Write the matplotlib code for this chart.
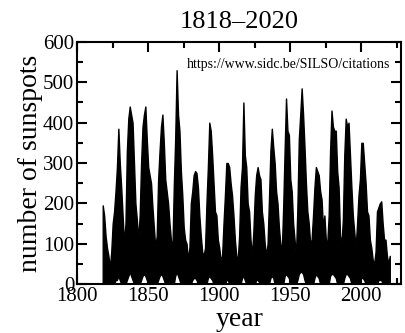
import numpy as np
import matplotlib
matplotlib.use("Agg")
import matplotlib.pyplot as plt
from matplotlib.ticker import MultipleLocator

# yearly envelope of the daily sunspot number
years = np.arange(1818, 2021)
upper = [195, 170, 120, 90, 70, 40, 80, 150, 180, 230,
         290, 385, 300, 240, 170, 100, 150, 330, 410, 440,
         420, 400, 300, 200, 160, 110, 170, 300, 390, 420,
         440, 360, 290, 270, 250, 190, 140, 90, 120, 260,
         330, 390, 420, 350, 260, 230, 200, 150, 110, 80,
         240, 360, 530, 420, 380, 280, 220, 140, 110, 100,
         60, 90, 200, 230, 270, 280, 275, 240, 170, 120,
         80, 70, 90, 200, 290, 400, 380, 320, 250, 180,
         170, 110, 90, 60, 70, 150, 220, 300, 300, 290,
         250, 220, 170, 110, 70, 60, 120, 240, 290, 450,
         320, 290, 200, 180, 110, 70, 130, 220, 270, 290,
         270, 260, 180, 150, 100, 70, 100, 210, 330, 385,
         340, 300, 230, 200, 140, 100, 80, 190, 330, 460,
         380, 370, 260, 230, 150, 110, 70, 190, 360, 420,
         485, 420, 340, 250, 180, 150, 100, 110, 170, 240,
         290, 280, 270, 230, 210, 140, 170, 110, 100, 170,
         330, 430, 390, 380, 380, 280, 240, 120, 100, 160,
         320, 410, 390, 400, 320, 240, 170, 130, 90, 150,
         220, 260, 350, 350, 300, 250, 180, 170, 110, 90,
         60, 50, 80, 180, 190, 200, 205, 150, 110, 110,
         70, 50, 70]
lower = [0, 0, 0, 0, 0, 0, 0, 0, 0, 10,
         10, 20, 10, 0, 0, 0, 0, 10, 20, 30,
         20, 10, 0, 0, 0, 0, 0, 10, 20, 25,
         20, 10, 0, 0, 0, 0, 0, 0, 0, 10,
         20, 25, 20, 10, 0, 0, 0, 0, 0, 0,
         0, 20, 30, 20, 10, 0, 0, 0, 0, 0,
         0, 0, 0, 10, 15, 15, 10, 0, 0, 0,
         0, 0, 0, 0, 15, 20, 15, 10, 0, 0,
         0, 0, 0, 0, 0, 0, 0, 10, 10, 0,
         0, 0, 0, 0, 0, 0, 0, 0, 15, 20,
         10, 0, 0, 0, 0, 0, 0, 0, 10, 10,
         5, 0, 0, 0, 0, 0, 0, 0, 15, 20,
         15, 0, 0, 0, 0, 0, 0, 0, 20, 25,
         20, 15, 0, 0, 0, 0, 0, 10, 25, 30,
         30, 25, 10, 0, 0, 0, 0, 0, 0, 15,
         25, 20, 15, 0, 0, 0, 0, 0, 0, 0,
         20, 25, 25, 20, 15, 0, 0, 0, 0, 0,
         15, 25, 25, 20, 15, 0, 0, 0, 0, 0,
         0, 10, 15, 15, 10, 0, 0, 0, 0, 0,
         0, 0, 0, 0, 10, 10, 10, 0, 0, 0,
         0, 0, 0]

plt.rcParams["font.family"] = ["Liberation Serif", "DejaVu Serif"]

fig = plt.figure(figsize=(4.06, 3.33), dpi=100)
ax = fig.add_axes([0.19, 0.147, 0.798, 0.727])

ax.fill_between(years, lower, upper, color="black", linewidth=1.0, edgecolor="black")

ax.set_xlim(1800, 2028)
ax.set_ylim(0, 600)
ax.xaxis.set_major_locator(MultipleLocator(50))
ax.xaxis.set_minor_locator(MultipleLocator(25))
ax.yaxis.set_major_locator(MultipleLocator(100))
ax.yaxis.set_minor_locator(MultipleLocator(50))
ax.tick_params(which="both", direction="in", top=True, right=True,
               labelsize=15, width=1.5, pad=2)
ax.tick_params(which="major", length=7)
ax.tick_params(which="minor", length=4)
for s in ax.spines.values():
    s.set_linewidth(1.5)

ax.set_title("1818–2020", fontsize=19, pad=10)
ax.set_xlabel("year", fontsize=20, labelpad=1)
ax.set_ylabel("number of sunspots", fontsize=20, labelpad=0)
ax.text(0.965, 0.905, "https://www.sidc.be/SILSO/citations", transform=ax.transAxes,
        ha="right", va="center", fontsize=10)

fig.savefig("out.png", dpi=100)
